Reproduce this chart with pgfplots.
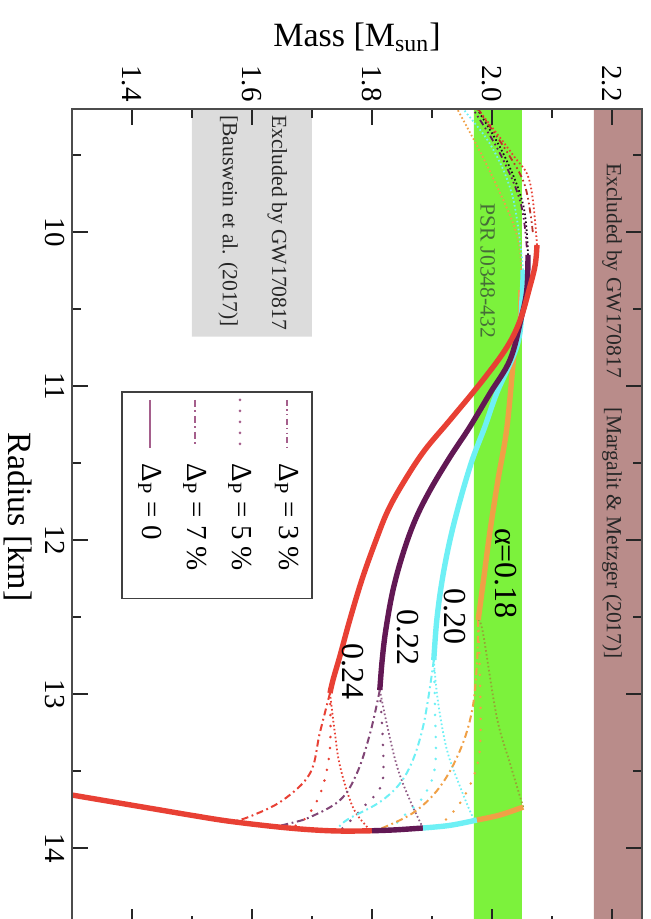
\documentclass[border=0pt]{standalone}
\usepackage{pgfplots}
\pgfplotsset{compat=1.18}
\usepackage{fontspec}
\setmainfont{Liberation Serif}

\definecolor{cRed}{RGB}{232,64,52}
\definecolor{cPurple}{RGB}{98,24,84}
\definecolor{cCyan}{RGB}{110,240,245}
\definecolor{cOrange}{RGB}{240,160,70}
\definecolor{bandGreen}{RGB}{124,242,60}
\definecolor{bandBrown}{RGB}{185,140,138}
\definecolor{bandGray}{RGB}{220,220,220}
\definecolor{legLine}{RGB}{165,95,140}
\definecolor{psrText}{RGB}{70,110,55}

\tikzset{
  p0/.style={line width=2.7pt},
  p3/.style={line width=0.9pt, dash pattern=on 3pt off 1.6pt on 0.8pt off 1.6pt on 0.8pt off 1.6pt},
  p5/.style={line width=1.4pt, line cap=round, dash pattern=on 0pt off 5.5pt},
  p7/.style={line width=1pt, dash pattern=on 3.5pt off 1.8pt on 0.9pt off 1.8pt},
  pu/.style={line width=0.9pt, dash pattern=on 0.8pt off 1.2pt},
  hyb/.style={smooth, tension=0.6},
}

\begin{document}
\begin{tikzpicture}
\begin{axis}[
  at={(36pt,-54.4pt)}, anchor=north west,
  scale only axis, width=285pt, height=408.1pt,
  xmin=1.3, xmax=2.25, ymin=9.2, ymax=14.5, y dir=reverse,
  xtick={1.4,1.6,1.8,2.0,2.2}, minor xtick={1.5,1.7,1.9,2.1},
  ytick={10,11,12,13,14}, minor ytick={9.5,10.5,11.5,12.5,13.5,14.5},
  xticklabel pos=upper,
  tick align=inside, major tick length=8pt, minor tick length=4.5pt,
  tick style={black!85, line width=0.7pt},
  axis line style={black!70, line width=1pt},
  /pgf/number format/assume math mode=true,
  xticklabel style={rotate=-90, anchor=east, font=\fontsize{14.5}{16}\selectfont,
    /pgf/number format/fixed, /pgf/number format/fixed zerofill, /pgf/number format/precision=1},
  yticklabel style={rotate=-90, anchor=north, font=\fontsize{14.5}{16}\selectfont},
  xlabel={Mass [M\textsubscript{sun}]},
  ylabel={Radius [km]},
  every axis x label/.style={at={(ticklabel cs:0.5)}, anchor=south, font=\fontsize{17}{19}\selectfont},
  every axis y label/.style={at={(ticklabel cs:0.5)}, rotate=-90, anchor=north, font=\fontsize{17}{19}\selectfont},
  axis on top, no markers, clip=true,
]

% exclusion and observation bands
\addplot[draw=none, fill=bandGray] coordinates {(1.5,9.2) (1.7,9.2) (1.7,10.68) (1.5,10.68) (1.5,9.2)};
\addplot[draw=none, fill=bandGreen] coordinates {(1.97,9.2) (2.05,9.2) (2.05,14.5) (1.97,14.5) (1.97,9.2)};
\addplot[draw=none, fill=bandBrown] coordinates {(2.17,9.2) (2.25,9.2) (2.25,14.5) (2.17,14.5) (2.17,9.2)};

\node[rotate=-90, anchor=west, inner sep=0, font=\fontsize{10.8}{12}\selectfont, text=black!85] at (axis cs:1.642,9.24) {Excluded by GW170817};
\node[rotate=-90, anchor=west, inner sep=0, font=\fontsize{10.8}{12}\selectfont, text=black!85] at (axis cs:1.560,9.24) {[Bauswein et al. (2017)]};
\node[rotate=-90, anchor=west, inner sep=0, font=\fontsize{10.8}{12}\selectfont, text=black!85] at (axis cs:2.200,9.55) {Excluded by GW170817};
\node[rotate=-90, anchor=west, inner sep=0, font=\fontsize{10.8}{12}\selectfont, text=black!85] at (axis cs:2.200,11.14) {[Margalit \& Metzger (2017)]};
\node[rotate=-90, anchor=west, inner sep=0, font=\fontsize{10.8}{12}\selectfont, text=psrText] at (axis cs:1.993,9.81) {PSR J0348-432};

% unstable branches beyond the maximum mass
\addplot[cOrange, pu, hyb] coordinates {(2.048,10.377) (2.043,10.04) (1.997,9.61) (1.942,9.2) (1.935,9.15)};
\addplot[cCyan, pu, hyb] coordinates {(2.052,10.247) (2.035,9.78) (2.000,9.45) (1.952,9.2) (1.945,9.15)};
\addplot[black!70!cPurple, pu, hyb] coordinates {(2.060,10.149) (2.052,9.825) (2.020,9.5) (1.975,9.2) (1.965,9.15)};
\addplot[cPurple, p3, hyb] coordinates {(2.058,10.10) (2.047,9.80) (2.012,9.48) (1.968,9.2) (1.958,9.15)};
\addplot[cRed, pu, hyb] coordinates {(2.075,10.084) (2.063,9.675) (2.035,9.5) (1.980,9.22) (1.965,9.15)};
\addplot[cRed!80!black, p3, hyb] coordinates {(2.068,10.00) (2.055,9.70) (2.025,9.48) (1.985,9.25) (1.970,9.15)};

% alpha = 0.24
\addplot[cRed, p7, hyb] coordinates {(1.730,12.994) (1.713,13.253) (1.697,13.513) (1.652,13.688) (1.600,13.79) (1.568,13.83)};
\addplot[cRed, p5, hyb] coordinates {(1.730,12.994) (1.730,13.35) (1.718,13.6) (1.700,13.75) (1.680,13.84) (1.660,13.87)};
\addplot[cRed, pu, hyb] coordinates {(1.730,12.994) (1.738,13.25) (1.747,13.474) (1.768,13.734) (1.792,13.864) (1.800,13.888)};
% alpha = 0.22
\addplot[cPurple!80, p7, hyb] coordinates {(1.813,12.974) (1.797,13.253) (1.775,13.513) (1.747,13.688) (1.697,13.799) (1.663,13.84) (1.640,13.86)};
\addplot[cPurple!80, p5, hyb] coordinates {(1.813,12.974) (1.818,13.3) (1.818,13.558) (1.805,13.656) (1.792,13.708) (1.770,13.8) (1.747,13.885)};
\addplot[cPurple!70, pu, hyb] coordinates {(1.813,12.974) (1.825,13.2) (1.842,13.474) (1.863,13.688) (1.885,13.87)};
% alpha = 0.20
\addplot[cCyan, p7, hyb] coordinates {(1.903,12.779) (1.885,13.214) (1.858,13.513) (1.818,13.688) (1.758,13.818) (1.740,13.89)};
\addplot[cCyan, p5, hyb] coordinates {(1.903,12.779) (1.905,13.1) (1.905,13.474) (1.885,13.669) (1.858,13.773) (1.830,13.88)};
\addplot[cCyan, pu, hyb] coordinates {(1.903,12.779) (1.910,13.05) (1.925,13.364) (1.947,13.604) (1.968,13.799) (1.975,13.818)};
% alpha = 0.18
\addplot[cOrange, p7, hyb] coordinates {(1.977,12.519) (1.975,12.8) (1.967,13.104) (1.947,13.364) (1.913,13.604) (1.868,13.773) (1.808,13.885)};
\addplot[cOrange, p5, hyb] coordinates {(1.977,12.519) (1.980,12.9) (1.980,13.344) (1.967,13.558) (1.942,13.734) (1.910,13.865)};
\addplot[cOrange!70!black!60!bandGreen, pu, hyb] coordinates {(1.977,12.519) (1.985,12.604) (2.008,13.15) (2.030,13.45) (2.052,13.734)};

% hadronic branch, coloured by the alpha that leaves it
\addplot[cRed, p0, hyb] coordinates {(1.270,13.636) (1.300,13.656) (1.350,13.689) (1.400,13.722) (1.450,13.755) (1.500,13.788) (1.560,13.825) (1.640,13.862) (1.700,13.882) (1.750,13.890) (1.800,13.888)};
\addplot[cPurple, p0, hyb] coordinates {(1.800,13.888) (1.840,13.882) (1.885,13.870)};
\addplot[cCyan, p0, hyb] coordinates {(1.885,13.870) (1.930,13.853) (1.975,13.818)};
\addplot[cOrange, p0, hyb] coordinates {(1.975,13.818) (2.013,13.786) (2.052,13.734)};

% stable hybrid branches (Delta_P = 0)
\addplot[cOrange, p0, hyb] coordinates {(2.048,10.377) (2.047,10.571) (2.038,10.747) (2.025,11.266) (2.010,11.610) (1.997,11.935) (1.987,12.227) (1.977,12.519)};
\addplot[cCyan, p0, hyb] coordinates {(2.052,10.247) (2.050,10.442) (2.043,10.721) (2.008,11.045) (1.988,11.266) (1.967,11.481) (1.947,11.740) (1.930,12.0) (1.917,12.26) (1.908,12.519) (1.903,12.779)};
\addplot[cPurple, p0, hyb] coordinates {(2.060,10.149) (2.058,10.377) (2.048,10.571) (2.030,10.831) (1.997,11.045) (1.963,11.266) (1.930,11.461) (1.897,11.675) (1.872,11.870) (1.852,12.084) (1.835,12.325) (1.823,12.584) (1.817,12.779) (1.813,12.974)};
\addplot[cRed, p0, hyb] coordinates {(2.075,10.084) (2.072,10.214) (2.063,10.357) (2.047,10.571) (2.025,10.747) (1.985,10.961) (1.930,11.221) (1.888,11.416) (1.855,11.610) (1.827,11.805) (1.805,12.019) (1.783,12.260) (1.763,12.519) (1.747,12.747) (1.735,12.909) (1.730,12.994)};

% curve labels
\node[rotate=-90, anchor=west, inner sep=0, font=\fontsize{16}{18}\selectfont] at (axis cs:2.023,11.92) {α=0.18};
\node[rotate=-90, anchor=west, inner sep=0, font=\fontsize{16}{18}\selectfont] at (axis cs:1.938,12.31) {0.20};
\node[rotate=-90, anchor=west, inner sep=0, font=\fontsize{16}{18}\selectfont] at (axis cs:1.860,12.45) {0.22};
\node[rotate=-90, anchor=west, inner sep=0, font=\fontsize{16}{18}\selectfont] at (axis cs:1.768,12.67) {0.24};

% legend
\draw[black!75, line width=0.8pt, fill=white] (axis cs:1.383,11.04) rectangle (axis cs:1.700,12.38);
\addplot[legLine, p3] coordinates {(1.658,11.09) (1.658,11.40)};
\addplot[legLine, p5] coordinates {(1.580,11.09) (1.580,11.40)};
\addplot[legLine, p7] coordinates {(1.505,11.09) (1.505,11.40)};
\addplot[legLine, line width=1pt] coordinates {(1.430,11.09) (1.430,11.40)};
\node[rotate=-90, anchor=west, inner sep=0, font=\fontsize{14.5}{16}\selectfont] at (axis cs:1.658,11.50) {Δ\textsubscript{P} = 3 \%};
\node[rotate=-90, anchor=west, inner sep=0, font=\fontsize{14.5}{16}\selectfont] at (axis cs:1.580,11.50) {Δ\textsubscript{P} = 5 \%};
\node[rotate=-90, anchor=west, inner sep=0, font=\fontsize{14.5}{16}\selectfont] at (axis cs:1.505,11.50) {Δ\textsubscript{P} = 7 \%};
\node[rotate=-90, anchor=west, inner sep=0, font=\fontsize{14.5}{16}\selectfont] at (axis cs:1.430,11.50) {Δ\textsubscript{P} = 0};
\end{axis}
\pgfresetboundingbox
\path[use as bounding box] (0,0) rectangle (325.5pt,-459.5pt);
\end{tikzpicture}
\end{document}
